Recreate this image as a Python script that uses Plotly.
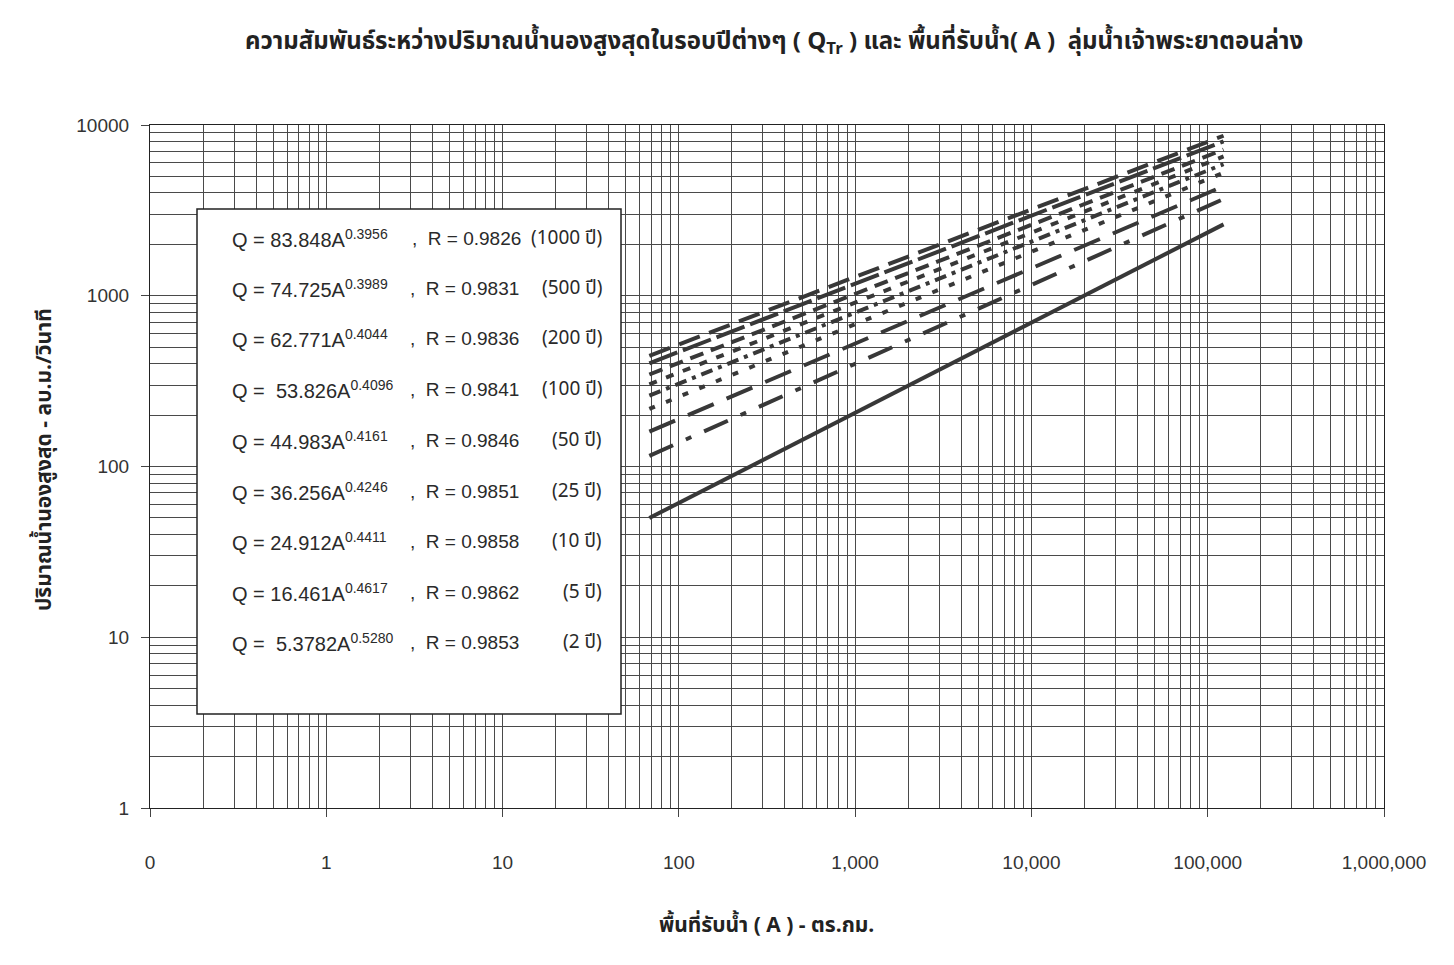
import plotly.graph_objects as go

# Regression curves Q = a * A^b for each return period
periods = ["1000 ปี", "500 ปี", "200 ปี", "100 ปี", "50 ปี", "25 ปี", "10 ปี", "5 ปี", "2 ปี"]
coef_a = [83.848, 74.725, 62.771, 53.826, 44.983, 36.256, 24.912, 16.461, 5.3782]
coef_a_text = ["83.848", "74.725", "62.771", " 53.826", "44.983", "36.256", "24.912", "16.461", " 5.3782"]
coef_b = [0.3956, 0.3989, 0.4044, 0.4096, 0.4161, 0.4246, 0.4411, 0.4617, 0.5280]
coef_b_text = ["0.3956", "0.3989", "0.4044", "0.4096", "0.4161", "0.4246", "0.4411", "0.4617", "0.5280"]
r_values = ["0.9826", "0.9831", "0.9836", "0.9841", "0.9846", "0.9851", "0.9858", "0.9862", "0.9853"]

# Catchment area range covered by the curves (sq.km.)
area_range = [68, 123000]

x_tickvals = [0.1, 1, 10, 100, 1000, 10000, 100000, 1000000]
x_ticktext = ["0", "1", "10", "100", "1,000", "10,000", "100,000", "1,000,000"]
y_tickvals = [1, 10, 100, 1000, 10000]
y_ticktext = ["1", "10", "100", "1000", "10000"]

dashes = ["22px,10px", "30px,6px", "14px,8px", "8px,10px", "12px,6px,4px,6px",
          "6px,12px", "28px,14px", "26px,14px,6px,14px", "solid"]

LINE = "#383838"
THAI = "Noto Sans Thai, Loma, Garuda, Tahoma, Liberation Sans, sans-serif"
TEXT = "Liberation Sans, Arial, sans-serif"

fig = go.Figure()
for name, a, b, d in zip(periods, coef_a, coef_b, dashes):
    q = [a * A ** b for A in area_range]
    fig.add_trace(go.Scatter(
        x=area_range, y=q, mode="lines", name=name,
        line=dict(color=LINE, width=4, dash=d), showlegend=False,
    ))

# plot area in pixels: x 150..1384, y 125..808
L, R, T, B = 150, 1384, 125, 808


def px(x):
    return (x - L) / (R - L)


def py(y):
    return (B - y) / (B - T)


annotations = []
row_y = [238, 288, 338, 389, 440, 491, 541, 592, 642]
for i in range(len(periods)):
    yy = py(row_y[i])
    annotations.append(dict(
        x=px(230), y=yy, xref="paper", yref="paper", xanchor="left", yanchor="middle",
        text=f"Q = {coef_a_text[i]}A<sup>{coef_b_text[i]}</sup>", showarrow=False,
        font=dict(family=TEXT, size=20, color="#2a2a2a"),
    ))
    annotations.append(dict(
        x=px(408 if i else 410), y=yy, xref="paper", yref="paper", xanchor="left", yanchor="middle",
        text=f",  R = {r_values[i]}", showarrow=False,
        font=dict(family=TEXT, size=19, color="#2a2a2a"),
    ))
    annotations.append(dict(
        x=px(604), y=yy, xref="paper", yref="paper", xanchor="right", yanchor="middle",
        text=f"({periods[i]})", showarrow=False,
        font=dict(family=THAI, size=19, color="#2a2a2a"),
    ))

annotations.append(dict(
    x=px(45), y=py(459), xref="paper", yref="paper", xanchor="center", yanchor="middle",
    text="<b>ปริมาณน้ำนองสูงสุด - ลบ.ม./วินาที</b>", textangle=-90, showarrow=False,
    font=dict(family=THAI, size=21, color="#222"),
))
annotations.append(dict(
    x=px(766), y=py(925), xref="paper", yref="paper", xanchor="center", yanchor="middle",
    text="<b>พื้นที่รับน้ำ ( A ) - ตร.กม.</b>", showarrow=False,
    font=dict(family=THAI, size=21, color="#222"),
))
annotations.append(dict(
    x=px(774), y=py(43), xref="paper", yref="paper", xanchor="center", yanchor="middle",
    text="<b>ความสัมพันธ์ระหว่างปริมาณน้ำนองสูงสุดในรอบปีต่างๆ ( Q<sub>Tr</sub> ) และ พื้นที่รับน้ำ( A )  ลุ่มน้ำเจ้าพระยาตอนล่าง</b>",
    showarrow=False, font=dict(family=THAI, size=24, color="#222"),
))

grid = "#4a4a4a"
axis_common = dict(
    type="log", showgrid=True, gridcolor=grid, gridwidth=1,
    showline=True, linecolor="#222", linewidth=1.2, mirror=True,
    ticks="outside", ticklen=8, tickcolor="#444", tickwidth=1,
    tickfont=dict(family=TEXT, size=19, color="#333"),
    zeroline=False,
    minor=dict(dtick="D1", showgrid=True, gridcolor=grid, gridwidth=1, ticks=""),
)

fig.update_layout(
    width=1454, height=965,
    margin=dict(l=L, r=1454 - R, t=T, b=965 - B),
    paper_bgcolor="white", plot_bgcolor="white",
    xaxis=dict(range=[-1, 6], tickvals=x_tickvals, ticktext=x_ticktext,
               ticklabelstandoff=29, **axis_common),
    yaxis=dict(range=[0, 4], tickvals=y_tickvals, ticktext=y_ticktext,
               ticklabelstandoff=8, **axis_common),
    annotations=annotations,
    shapes=[dict(type="rect", xref="paper", yref="paper",
                 x0=px(197), x1=px(621), y0=py(714), y1=py(209),
                 line=dict(color="#222", width=1.5), fillcolor="white", layer="above")],
)

fig.write_html("out.html")
